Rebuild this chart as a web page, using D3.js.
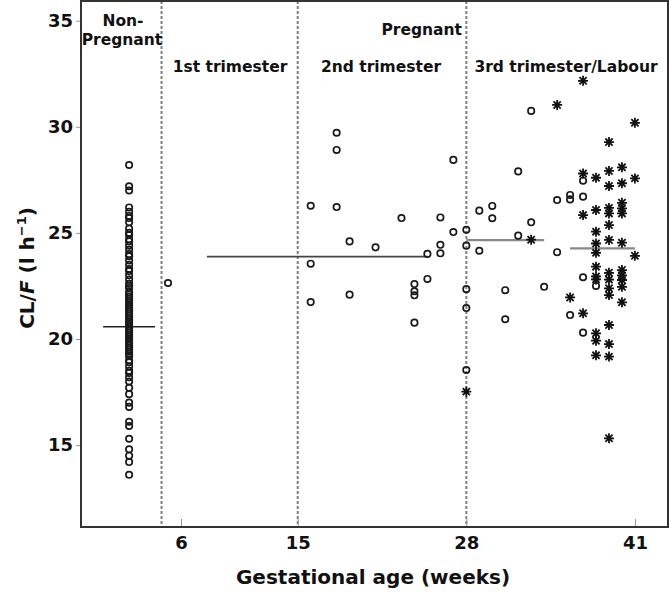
<!DOCTYPE html>
<html><head><meta charset="utf-8">
<script src="https://cdn.jsdelivr.net/npm/d3@7"></script>
<style>
body{margin:0;background:#fff}
text{font-family:"DejaVu Sans",sans-serif;fill:#111}
</style>
</head><body>
<svg id="chart" width="670" height="592"></svg>
<script>
// ---------- data ----------
const xTickValues = [6, 15, 28, 41];
const yTickValues = [15, 20, 25, 30, 35];
const phaseBoundaries = [4.5, 15, 28];

const nonPregnantWeek = 2;
const nonPregnantCL = [28.2, 27.2, 27.0, 26.2, 26.0, 25.8, 25.7, 25.5, 25.2, 25.0, 24.9, 24.7,
  24.6, 24.4, 24.2, 24.0, 23.9, 23.7, 23.5, 23.3, 23.2, 23.0, 22.8, 22.6, 22.5, 22.4, 22.2,
  22.1, 22.0, 21.9, 21.8, 21.7, 21.6, 21.5, 21.4, 21.3, 21.2, 21.1, 21.0, 20.9, 20.8, 20.7,
  20.6, 20.5, 20.4, 20.3, 20.2, 20.1, 20.0, 19.9, 19.8, 19.7, 19.6, 19.5, 19.4, 19.3, 19.2,
  19.0, 18.9, 18.7, 18.5, 18.4, 18.2, 18.0, 17.7, 17.4, 17.0, 16.8, 16.1, 15.9, 15.3, 14.8,
  14.5, 14.2, 13.6];

// pregnant, circles: [week, CL/F]
const pregnantWeeks = [5,
  18, 18, 16, 18, 27, 23, 26, 19, 21, 27, 26, 26, 25, 16, 25, 24, 24, 24, 19, 16, 24,
  28, 28, 28, 28, 28,
  29, 30, 30, 29, 32, 33, 35, 33, 32, 35, 34, 31, 31, 36, 36, 37, 37, 37, 38, 36, 37];
const pregnantCL = [22.64,
  29.72, 28.91, 26.28, 26.22, 28.44, 25.70, 25.73, 24.60, 24.32, 25.04, 24.44, 24.04, 24.01,
  23.55, 22.83, 22.59, 22.25, 22.06, 22.09, 21.74, 20.77,
  25.15, 24.40, 22.35, 21.46, 18.54,
  26.05, 26.27, 25.69, 24.16, 27.90, 30.75, 26.55, 25.50, 24.87, 24.09, 22.46, 22.30, 20.93,
  26.79, 26.58, 26.71, 27.46, 22.91, 22.50, 21.13, 20.30];

// labour, asterisks: [week, CL/F]
const labourWeeks = [28, 33, 35, 37, 41, 39, 37, 38, 39, 40, 39, 40, 41, 37, 38, 39, 39, 40, 40, 40,
  38, 39, 39, 38, 40, 38, 41, 38, 38, 39, 39, 40, 40, 40, 39, 39, 40, 36, 37, 39, 38, 38, 39, 38, 39, 39, 38, 40];
const labourCL = [17.52, 24.68, 31.03, 32.17, 30.19, 29.28, 27.80, 27.60, 27.92, 28.09, 27.21, 27.34,
  27.57, 25.84, 26.08, 26.18, 25.92, 26.42, 26.16, 25.92, 25.06, 25.37, 24.67, 24.50, 24.54, 24.06,
  23.92, 23.41, 22.81, 23.12, 22.80, 23.25, 22.78, 22.46, 22.39, 22.07, 21.73, 21.96, 21.21, 20.66,
  20.27, 19.92, 19.76, 19.23, 19.17, 15.32, 22.95, 23.0];

// mean lines: start week, end week, value
const meanStart = [0, 8, 28, 36];
const meanEnd = [4, 25, 34, 41];
const meanValue = [20.58, 23.88, 24.66, 24.27];

const phaseLabels = ["1st trimester", "2nd trimester", "3rd trimester/Labour"];

// ---------- chart ----------
const svg = d3.select("#chart");
const L = 81, R = 668, T = 1, B = 527;
const x = d3.scaleLinear().domain([-1.71, 43.55]).range([L, R]);
const y = d3.scaleLinear().domain([11.14, 35.93]).range([B, T]);

// dashed phase boundaries
svg.append("g").selectAll("line").data(phaseBoundaries).join("line")
  .attr("x1", d => x(d)).attr("x2", d => x(d))
  .attr("y1", T).attr("y2", B)
  .attr("stroke", "#808080").attr("stroke-width", 2).attr("stroke-dasharray", "3,2");

// y axis
const yAxis = svg.append("g").attr("transform", `translate(${L},0)`)
  .call(d3.axisLeft(y).tickValues(yTickValues).tickSize(5).tickPadding(3).tickFormat(d3.format("d")));
yAxis.select(".domain").remove();
yAxis.selectAll(".tick line").attr("stroke", "#999").attr("stroke-width", 1);
yAxis.selectAll(".tick text").attr("font-size", 18).attr("font-weight", "bold")
  .attr("font-family", "DejaVu Sans, sans-serif").attr("fill", "#1a1a1a");

// x axis (inward ticks)
const xAxis = svg.append("g").attr("transform", `translate(0,${B})`)
  .call(d3.axisBottom(x).tickValues(xTickValues).tickSize(-8).tickPadding(0).tickFormat(d3.format("d")));
xAxis.select(".domain").remove();
xAxis.selectAll(".tick line").attr("stroke", "#999").attr("stroke-width", 1);
xAxis.selectAll(".tick text").attr("font-size", 18).attr("font-weight", "bold")
  .attr("font-family", "DejaVu Sans, sans-serif").attr("fill", "#1a1a1a").attr("dy", "1.2em");

// frame
svg.append("rect").attr("x", L).attr("y", T).attr("width", R - L).attr("height", B - T)
  .attr("fill", "none").attr("stroke", "#333").attr("stroke-width", 2);

// mean lines
const meanColors = ["#222", "#444", "#888", "#888"];
const meanWidths = [1.6, 1.8, 2.4, 2.4];
svg.append("g").selectAll("line").data(meanValue).join("line")
  .attr("x1", (d, i) => x(meanStart[i])).attr("x2", (d, i) => x(meanEnd[i]))
  .attr("y1", d => y(d)).attr("y2", d => y(d))
  .attr("stroke", (d, i) => meanColors[i]).attr("stroke-width", (d, i) => meanWidths[i]);

// circles
const circleData = nonPregnantCL.map(v => [nonPregnantWeek, v])
  .concat(pregnantWeeks.map((w, i) => [w, pregnantCL[i]]));
svg.append("g").selectAll("circle").data(circleData).join("circle")
  .attr("cx", d => x(d[0])).attr("cy", d => y(d[1])).attr("r", 3.2)
  .attr("fill", "none").attr("stroke", "#1a1a1a").attr("stroke-width", 1.7);

// asterisks (8-armed)
const s = 5, s2 = s * 0.72;
const starPath = `M${-s},0L${s},0M0,${-s}L0,${s}M${-s2},${-s2}L${s2},${s2}M${-s2},${s2}L${s2},${-s2}`;
svg.append("g").selectAll("path").data(labourWeeks.map((w, i) => [w, labourCL[i]])).join("path")
  .attr("transform", d => `translate(${x(d[0])},${y(d[1])})`)
  .attr("d", starPath).attr("stroke", "#111").attr("stroke-width", 1.8).attr("fill", "none");

// labels
const lab = (t, px, py, anchor) => svg.append("text").attr("x", px).attr("y", py)
  .attr("text-anchor", anchor || "middle").attr("font-size", 15.5).attr("font-weight", "bold").text(t);
lab("Non-", 123, 26);
lab("Pregnant", 122, 45);
lab("Pregnant", 462, 35, "end");
lab(phaseLabels[0], 230, 72);
lab(phaseLabels[1], 381, 72);
lab(phaseLabels[2], 566, 72);

// axis titles
svg.append("text").attr("x", 373).attr("y", 584).attr("text-anchor", "middle")
  .attr("font-size", 20).attr("font-weight", "bold").text("Gestational age (weeks)");
const yt = svg.append("text").attr("transform", "translate(34,268) rotate(-90)")
  .attr("text-anchor", "middle").attr("font-size", 20).attr("font-weight", "bold");
yt.append("tspan").text("CL/");
yt.append("tspan").attr("font-style", "italic").text("F");
yt.append("tspan").text(" (l h");
yt.append("tspan").attr("font-size", 13).attr("dy", -8).text("\u22121");
yt.append("tspan").attr("dy", 8).text(")");
</script>
</body></html>
